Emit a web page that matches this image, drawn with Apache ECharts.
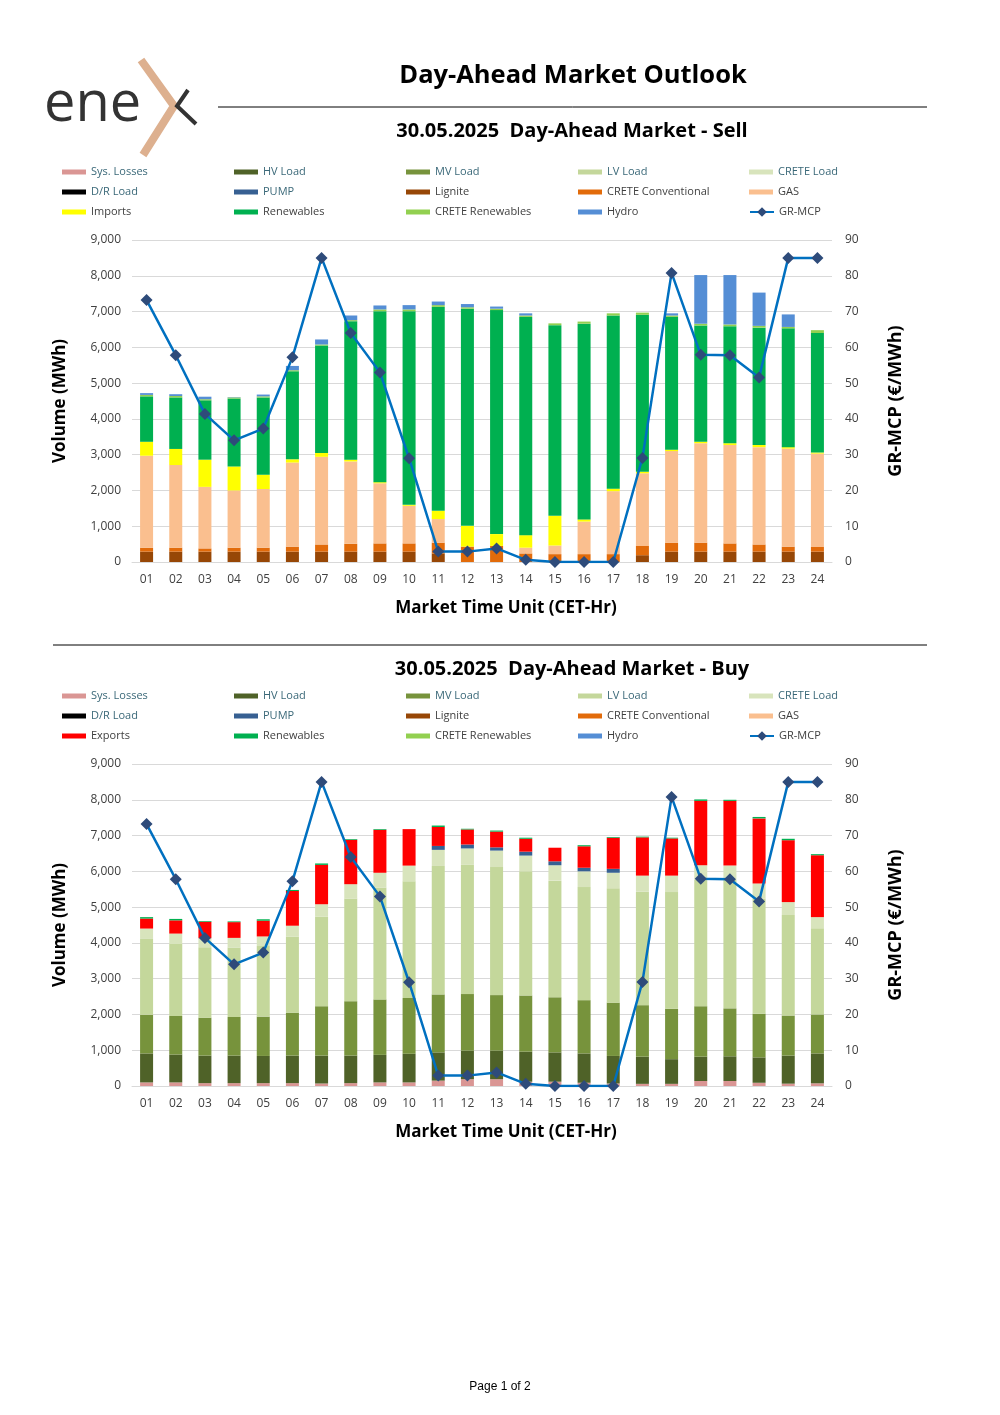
<!DOCTYPE html>
<html>
<head>
<meta charset="utf-8">
<script src="https://cdn.jsdelivr.net/npm/echarts@6/dist/echarts.min.js"></script>
<style>
html,body{margin:0;padding:0;background:#fff;}
#c{width:1000px;height:1415px;}
</style>
</head>
<body>
<div id="c"></div>
<script>
const hours = ['01','02','03','04','05','06','07','08','09','10','11','12','13','14','15','16','17','18','19','20','21','22','23','24'];
const volumeTicks = [0,1000,2000,3000,4000,5000,6000,7000,8000,9000];
const priceTicks = [0,10,20,30,40,50,60,70,80,90];
const mcp = [73.2,57.8,41.4,34.0,37.3,57.2,85.0,64.0,53.0,29.0,2.9,2.9,3.8,0.6,0,0,0,29.1,80.8,57.9,57.8,51.6,85.0,85.0];

// Sell side
const sellLignite   = [290,290,290,290,290,290,290,290,290,290,240,0,0,0,0,0,0,190,290,290,290,290,290,290];
const sellCreteConv = [110,110,90,110,110,140,200,220,230,230,300,430,450,240,220,220,220,260,250,250,230,200,140,130];
const sellGas       = [2570,2310,1720,1600,1640,2350,2450,2300,1680,1050,660,0,0,160,240,910,1760,2030,2560,2780,2750,2720,2740,2610];
const sellImports   = [390,450,760,670,400,90,110,50,30,30,230,580,330,350,830,60,70,40,40,40,50,60,40,30];
const sellRenew     = [1270,1440,1660,1900,2160,2460,3000,3870,4780,5410,5700,6070,6260,6100,5330,5470,4840,4390,3710,3250,3270,3280,3320,3340];
const sellCreteRen  = [40,40,30,30,30,30,30,30,50,50,50,40,40,40,50,60,60,60,40,50,50,50,40,80];
const sellHydro     = [50,50,70,10,50,120,140,130,110,120,100,90,60,60,0,0,0,0,60,1360,1380,930,350,0];

// Buy side
const buySysLosses  = [100,100,80,80,80,80,70,80,100,100,150,190,190,120,120,90,70,60,60,140,140,90,65,75];
const buyHV         = [810,780,770,770,760,770,780,770,770,800,790,800,800,840,820,820,770,760,690,680,690,710,785,835];
const buyMV         = [1080,1080,1060,1080,1100,1200,1380,1520,1550,1560,1620,1580,1550,1570,1540,1490,1490,1440,1410,1410,1340,1220,1120,1090];
const buyLV         = [2120,2010,1970,1940,1970,2130,2500,2870,3120,3260,3590,3610,3580,3470,3260,3160,3200,3170,3260,3540,3590,3220,2810,2410];
const buyCreteLoad  = [290,290,250,270,270,300,350,400,420,440,450,460,460,440,430,440,430,450,460,400,400,420,360,310];
const buyDR         = [0,0,0,0,0,0,0,0,0,0,0,0,0,0,0,0,0,0,0,0,0,0,0,0];
const buyPump       = [0,0,0,0,0,0,0,0,0,0,110,110,90,110,110,100,110,0,0,0,0,0,0,0];
const buyExports    = [280,370,460,440,440,970,1100,1240,1200,1020,530,420,440,360,380,600,870,1070,1040,1800,1810,1820,1730,1730];
const buyRenew      = [40,40,20,20,40,30,40,20,20,0,40,20,30,30,0,30,20,20,20,40,30,40,40,30];

const C = {
  'Sys. Losses':'#DA9694','HV Load':'#4F6228','MV Load':'#77933C','LV Load':'#C4D79B','CRETE Load':'#D8E4BC',
  'D/R Load':'#000000','PUMP':'#376092','Lignite':'#974706','CRETE Conventional':'#E26B0A','GAS':'#FABF8F',
  'Imports':'#FFFF00','Exports':'#FF0000','Renewables':'#00B050','CRETE Renewables':'#92D050','Hydro':'#558ED5'
};
const TEAL = '#3A6878', GREY = '#404040';
const tealNames = ['Sys. Losses','HV Load','MV Load','LV Load','CRETE Load','D/R Load','PUMP'];
const FONT = 'Open Sans';

function bar(name, data, g){
  return {name, type:'bar', stack:'s'+g, xAxisIndex:g, yAxisIndex:g*2, data,
    barWidth:13, itemStyle:{color:C[name]}, emphasis:{disabled:true}, z:2};
}
function line(g){
  return {name:'GR-MCP', type:'line', xAxisIndex:g, yAxisIndex:g*2+1, data:mcp,
    symbol:'diamond', symbolSize:12, lineStyle:{color:'#0070C0', width:2.5},
    itemStyle:{color:'#2E4B7A'}, z:5, emphasis:{disabled:true}};
}
function legendItems(names){
  return names.map(n=>({name:n, textStyle:{color: tealNames.includes(n)?TEAL:GREY}}));
}
function legends(top, third){
  const cols = [
    ['Sys. Losses','D/R Load',third],
    ['HV Load','PUMP','Renewables'],
    ['MV Load','Lignite','CRETE Renewables'],
    ['LV Load','CRETE Conventional','Hydro'],
    ['CRETE Load','GAS']
  ];
  const xs = [62,234,406,578,749];
  const out = cols.map((names,i)=>({
    left:xs[i], top:top, orient:'vertical', itemWidth:24, itemHeight:5, itemGap:8,
    padding:0, icon:'rect', selectedMode:false,
    textStyle:{fontSize:11, lineHeight:12, fontFamily:FONT},
    data:legendItems(names)
  }));
  out.push({left:749, top:top+40, orient:'vertical', itemWidth:24, itemHeight:12, padding:0,
    selectedMode:false, textStyle:{fontSize:11, lineHeight:12, fontFamily:FONT, color:GREY}, data:['GR-MCP']});
  return out;
}
function xAxis(g){
  return {type:'category', gridIndex:g, data:hours, boundaryGap:true,
    axisLine:{lineStyle:{color:'#D9D9D9'}}, axisTick:{show:false},
    axisLabel:{color:'#404040', fontSize:12, fontFamily:FONT, margin:12},
    name:'Market Time Unit (CET-Hr)', nameLocation:'middle', nameGap:38,
    nameTextStyle:{fontSize:17, fontWeight:'bold', color:'#000', fontFamily:FONT, padding:[0,0,0,48]}};
}
function yLeft(g){
  return {type:'value', gridIndex:g, min:volumeTicks[0], max:volumeTicks[volumeTicks.length-1], interval:1000,
    axisLine:{show:false}, axisTick:{show:false},
    splitLine:{lineStyle:{color:'#D9D9D9', width:1}},
    axisLabel:{color:'#404040', fontSize:12, fontFamily:FONT, margin:11,
      formatter:v=>v.toLocaleString('en-US')},
    name:'Volume (MWh)', nameLocation:'middle', nameGap:63, nameRotate:90,
    nameTextStyle:{fontSize:17, fontWeight:'bold', color:'#000', fontFamily:FONT}};
}
function yRight(g){
  return {type:'value', gridIndex:g, position:'right', min:priceTicks[0], max:priceTicks[priceTicks.length-1], interval:10,
    axisLine:{show:false}, axisTick:{show:false}, splitLine:{show:false},
    axisLabel:{color:'#404040', fontSize:12, fontFamily:FONT, margin:13},
    name:'GR-MCP (€/MWh)', nameLocation:'middle', nameGap:55, nameRotate:90,
    nameTextStyle:{fontSize:18, fontWeight:'bold', color:'#000', fontFamily:FONT}};
}

const series = [
  bar('Lignite', sellLignite, 0),
  bar('CRETE Conventional', sellCreteConv, 0),
  bar('GAS', sellGas, 0),
  bar('Imports', sellImports, 0),
  bar('Renewables', sellRenew, 0),
  bar('CRETE Renewables', sellCreteRen, 0),
  bar('Hydro', sellHydro, 0),
  line(0),
  bar('Sys. Losses', buySysLosses, 1),
  bar('HV Load', buyHV, 1),
  bar('MV Load', buyMV, 1),
  bar('LV Load', buyLV, 1),
  bar('CRETE Load', buyCreteLoad, 1),
  bar('D/R Load', buyDR, 1),
  bar('PUMP', buyPump, 1),
  bar('Exports', buyExports, 1),
  bar('Renewables', buyRenew, 1),
  line(1)
];

const chart = echarts.init(document.getElementById('c'), null, {renderer:'canvas'});
chart.setOption({
  animation:false,
  backgroundColor:'#fff',
  textStyle:{fontFamily:FONT},
  grid:[
    {left:132, top:240, width:700, height:322},
    {left:132, top:764, width:700, height:322}
  ],
  xAxis:[xAxis(0), xAxis(1)],
  yAxis:[yLeft(0), yRight(0), yLeft(1), yRight(1)],
  legend:[...legends(166,'Imports'), ...legends(690,'Exports')],
  series,
  graphic:[
    {type:'text', x:44, y:105, style:{text:'ene', font:'56px "Open Sans"', fill:'#333', textVerticalAlign:'middle'}},
    {type:'polyline', shape:{points:[[141,60],[174,106],[143,155]]}, style:{stroke:'#DDB08F', lineWidth:8, fill:null}},
    {type:'polyline', shape:{points:[[188,90],[177,106],[196,124]]}, style:{stroke:'#333', lineWidth:4, fill:null}},
    {type:'text', x:573, y:76, style:{text:'Day-Ahead Market Outlook', font:'bold 25.5px "Open Sans"', fill:'#000', textAlign:'center', textVerticalAlign:'middle'}},
    {type:'line', shape:{x1:218, y1:107, x2:927, y2:107}, style:{stroke:'#000', lineWidth:1}},
    {type:'text', x:572, y:131, style:{text:'30.05.2025  Day-Ahead Market - Sell', font:'bold 20px "Open Sans"', fill:'#000', textAlign:'center', textVerticalAlign:'middle'}},
    {type:'line', shape:{x1:53, y1:645, x2:927, y2:645}, style:{stroke:'#000', lineWidth:1}},
    {type:'text', x:572, y:669, style:{text:'30.05.2025  Day-Ahead Market - Buy', font:'bold 20px "Open Sans"', fill:'#000', textAlign:'center', textVerticalAlign:'middle'}},
    {type:'text', x:500, y:1387, style:{text:'Page 1 of 2', font:'12px "Liberation Sans"', fill:'#000', textAlign:'center', textVerticalAlign:'middle'}}
  ]
});
</script>
</body>
</html>
